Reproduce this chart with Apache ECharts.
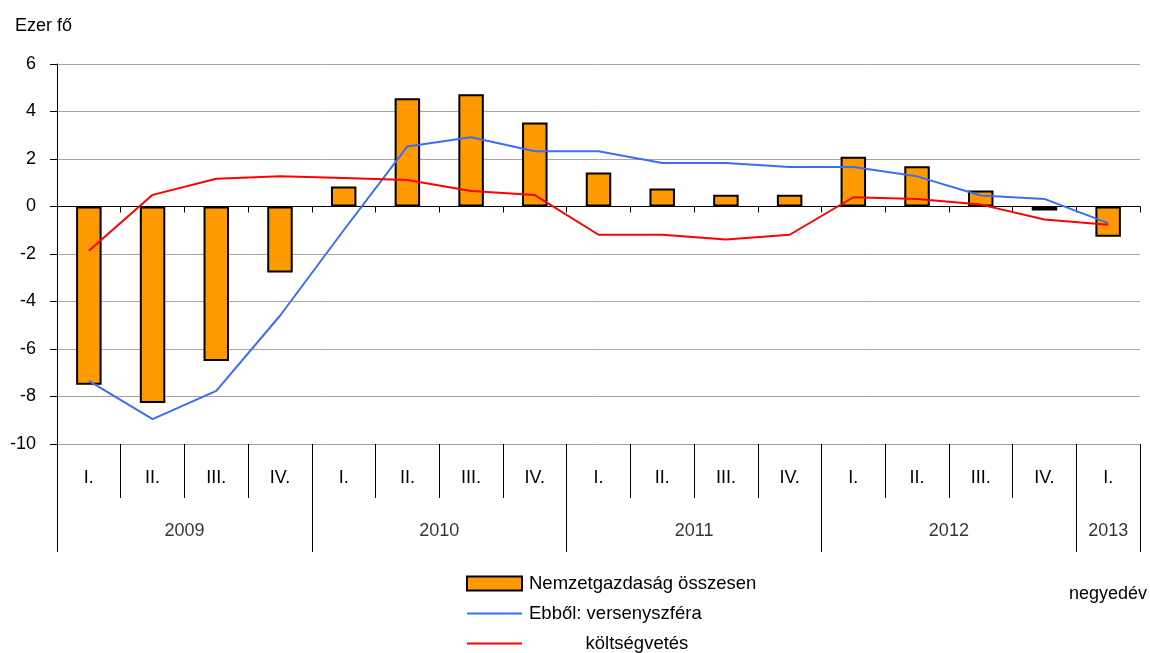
<!DOCTYPE html>
<html>
<head>
<meta charset="utf-8">
<script src="https://cdn.jsdelivr.net/npm/echarts@6/dist/echarts.min.js"></script>
<style>
  html, body { margin: 0; padding: 0; background: #fff; }
  #chart { width: 1150px; height: 653px; }
</style>
</head>
<body>
<div id="chart"></div>
<script>
  // negyedévek, évek
  var quarters = ['I.', 'II.', 'III.', 'IV.', 'I.', 'II.', 'III.', 'IV.', 'I.', 'II.', 'III.', 'IV.', 'I.', 'II.', 'III.', 'IV.', 'I.'];
  var years = ['2009', '2010', '2011', '2012', '2013'];
  var quartersPerYear = [4, 4, 4, 4, 1];

  // ezer fő
  var total = [-7.5, -8.27, -6.5, -2.78, 0.84, 4.56, 4.73, 3.54, 1.43, 0.76, 0.5, 0.5, 2.1, 1.69, 0.67, -0.17, -1.27];
  var business = [-7.34, -8.95, -7.76, -4.6, -1.0, 2.53, 2.92, 2.33, 2.33, 1.83, 1.83, 1.66, 1.66, 1.27, 0.46, 0.32, -0.7];
  var budget = [-1.86, 0.49, 1.17, 1.27, 1.2, 1.12, 0.65, 0.48, -1.19, -1.19, -1.39, -1.19, 0.39, 0.32, 0.08, -0.55, -0.77];

  var yMin = -10, yMax = 6, yStep = 2;

  var FONT = '"Liberation Sans", Arial, sans-serif';

  // év feliratok a sávok közepén
  var yearPoints = [];
  var start = 0;
  for (var i = 0; i < years.length; i++) {
    yearPoints.push({ name: years[i], value: [start + quartersPerYear[i] / 2, 0.38] });
    start += quartersPerYear[i];
  }

  var chart = echarts.init(document.getElementById('chart'));
  chart.setOption({
    animation: false,
    title: [
      { text: 'Ezer fő', left: 10, top: 12, textStyle: { fontSize: 18, fontWeight: 'normal', color: '#000', fontFamily: FONT } },
      { text: 'negyedév', left: 1064, top: 580, textStyle: { fontSize: 18, fontWeight: 'normal', color: '#000', fontFamily: FONT } }
    ],
    legend: {
      orient: 'vertical',
      left: 461,
      top: 569,
      height: 100,
      itemWidth: 55,
      itemHeight: 14,
      itemGap: 11,
      align: 'left',
      textStyle: { fontSize: 18.5, color: '#000', fontFamily: FONT, padding: [0, 0, 0, 2] },
      formatter: function (name) {
        return name === 'költségvetés' ? '           költségvetés' : name;
      },
      data: [
        { name: 'Nemzetgazdaság összesen', icon: 'rect' },
        { name: 'Ebből: versenyszféra', itemStyle: { opacity: 0 } },
        { name: 'költségvetés', itemStyle: { opacity: 0 } }
      ]
    },
    grid: [
      { left: 57, right: 10, top: 64, bottom: 209 },
      { left: 57, right: 10, top: 498, height: 54 }
    ],
    xAxis: [
      {
        type: 'category',
        gridIndex: 0,
        data: quarters,
        axisLine: { onZero: true, lineStyle: { color: '#000', width: 1 } },
        axisTick: { show: true, length: 6, interval: 0, lineStyle: { color: '#000' } },
        axisLabel: { show: false }
      },
      {
        type: 'category',
        gridIndex: 0,
        position: 'bottom',
        data: quarters,
        axisLine: { show: false, onZero: false },
        axisTick: { show: true, length: 54, interval: 0, lineStyle: { color: '#000' } },
        axisLabel: { show: true, interval: 0, margin: 25, fontSize: 18, color: '#000', fontFamily: FONT }
      },
      {
        type: 'value',
        gridIndex: 1,
        min: 0,
        max: quarters.length,
        interval: 4,
        axisLine: { show: false },
        axisTick: { show: false },
        axisLabel: { show: false },
        splitLine: { show: true, lineStyle: { color: '#000', width: 1 } }
      }
    ],
    yAxis: [
      {
        type: 'value',
        gridIndex: 0,
        min: yMin,
        max: yMax,
        interval: yStep,
        axisLine: { show: true, lineStyle: { color: '#000' } },
        axisTick: { show: true, length: 7, lineStyle: { color: '#000' } },
        axisLabel: { margin: 21, fontSize: 18, color: '#000', fontFamily: FONT },
        splitLine: { show: true, lineStyle: { color: '#a6a6a6', width: 1 } }
      },
      {
        type: 'value',
        gridIndex: 1,
        min: 0,
        max: 1,
        show: false
      }
    ],
    series: [
      {
        name: 'Nemzetgazdaság összesen',
        type: 'bar',
        xAxisIndex: 0,
        yAxisIndex: 0,
        barWidth: '40%',
        data: total,
        itemStyle: { color: '#ff9900', borderColor: '#000', borderWidth: 2 }
      },
      {
        name: 'Ebből: versenyszféra',
        type: 'line',
        xAxisIndex: 0,
        yAxisIndex: 0,
        data: business,
        symbol: 'none',
        z: 3,
        lineStyle: { color: '#3d6cf5', width: 2 },
        itemStyle: { color: '#3d6cf5' }
      },
      {
        name: 'költségvetés',
        type: 'line',
        xAxisIndex: 0,
        yAxisIndex: 0,
        data: budget,
        symbol: 'none',
        z: 3,
        lineStyle: { color: '#ff0000', width: 2 },
        itemStyle: { color: '#ff0000' }
      },
      {
        name: 'years',
        type: 'scatter',
        xAxisIndex: 2,
        yAxisIndex: 1,
        data: yearPoints,
        symbolSize: 1,
        itemStyle: { color: 'rgba(0,0,0,0)' },
        silent: true,
        label: {
          show: true,
          position: 'inside',
          formatter: '{b}',
          fontSize: 18,
          color: '#000',
          fontFamily: FONT
        }
      }
    ]
  });
</script>
</body>
</html>
